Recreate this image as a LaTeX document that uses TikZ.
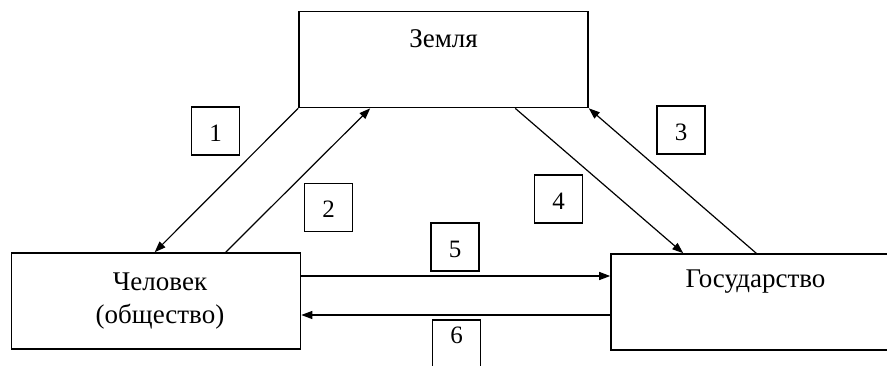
\documentclass[tikz,border=0pt]{standalone}
\usepackage{fontspec}
\setmainfont{Liberation Serif}
\usetikzlibrary{arrows.meta,positioning}
\tikzset{
    bigbox/.style={draw=black, line width=1.6pt, minimum width=289pt, minimum height=96pt, inner sep=0pt},
    numbox/.style={draw=black, line width=1.3pt, minimum size=48pt, inner sep=0pt},
    numtext/.style={font=\fontsize{25}{28}\selectfont, inner sep=0pt},
    flow/.style={line width=1.2pt, -{Triangle[length=11pt,width=8pt]}},
    boxtext/.style={font=\fontsize{27}{33}\selectfont, align=center, inner sep=0pt}
}
\begin{document}
\begin{tikzpicture}[x=1pt, y=-1pt]
        \useasboundingbox (0,0) rectangle (887,365);
        \clip (0,0) rectangle (887,365);
        %три основных блока
        \node[bigbox] (Zemlya) at (443.5,59.5) {};
        \node[bigbox] (Chelovek) at (156,301) {};
        \node[bigbox] (Gosudarstvo) at (755.5,302) {};
        \node[boxtext] (ZemlyaText) at (443.5,39) {Земля};
        \node[boxtext] (ChelovekText) at (160,301) {Человек\\(общество)};
        \node[boxtext] (GosudarstvoText) at (755.5,282) {Государство};
        
        \draw[flow] (Zemlya.south west) -- ([xshift=144pt]Chelovek.north west);
        \draw[flow] ([xshift=215pt]Chelovek.north west) -- ([xshift=72pt]Zemlya.south west);
        \draw[flow] ([xshift=217pt]Zemlya.south west) -- ([xshift=73pt]Gosudarstvo.north west);
        \draw[flow] ([xshift=146pt]Gosudarstvo.north west) -- (Zemlya.south east);
        \draw[flow] (Chelovek.east |- 0,276) -- (Gosudarstvo.west |- 0,276);
        \draw[flow] (Gosudarstvo.west |- 0,315) -- (Chelovek.east |- 0,315);
        
        \foreach \n/\x/\y in 
        {N1/215.5/131,
            N2/328.5/207.5,
            N3/681/130,
            N4/558.5/199,
            N5/455/247,
            N6/456.5/344
        }
        {
            \node[numbox] (\n) at (\x,\y) {};
        };
        \foreach \n/\t in {N1/1, N2/2, N3/3, N4/4, N5/5}
        {
            \node[numtext] (\n T) at ([yshift=-2pt]\n) {\t};
        };
        \node[numtext, below=7pt of N6.north] (N6T) {6};
\end{tikzpicture}
\end{document}
